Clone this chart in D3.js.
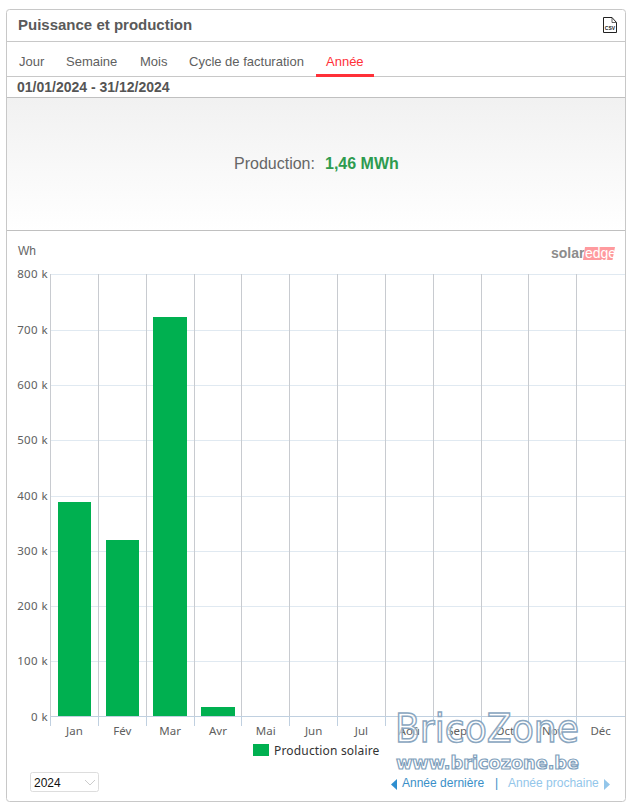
<!DOCTYPE html>
<html><head><meta charset="utf-8">
<script src="https://cdn.jsdelivr.net/npm/d3@7/dist/d3.min.js"></script>
<style>html,body{margin:0;padding:0;background:#fff}svg{display:block}</style>
</head><body><svg id="c" width="632" height="808"></svg>
<script>
// Monthly solar production in Wh
const months = ["Jan","Fév","Mar","Avr","Mai","Jun","Jul","Aoû","Sep","Oct","Nov","Déc"];
const production = [388000,319500,723000,17000,null,null,null,null,null,null,null,null];
const yTicks = [0,100000,200000,300000,400000,500000,600000,700000,800000];
const tabs = [["Jour",19],["Semaine",66],["Mois",140],["Cycle de facturation",189],["Année",326]];

const svg = d3.select("#c");
const F = "Arial, 'Liberation Sans', sans-serif";
const FC = "'Noto Sans', 'DejaVu Sans', sans-serif";

function text(x,y,s,o={}){
  return svg.append("text").attr("x",x).attr("y",y).text(s)
    .attr("font-family",o.f||F).attr("font-size",o.s||14).attr("fill",o.c||"#555")
    .attr("font-weight",o.w||"normal").attr("text-anchor",o.a||"start");
}
function hline(x1,x2,y,c,w=1){svg.append("line").attr("x1",x1).attr("x2",x2).attr("y1",y).attr("y2",y).attr("stroke",c).attr("stroke-width",w);}

// Widget frame
svg.append("rect").attr("x",6.5).attr("y",9.5).attr("width",619).attr("height",792).attr("rx",3)
  .attr("fill","#fff").attr("stroke","#c8c8c8");

// Summary band gradient
const defs = svg.append("defs");
const g = defs.append("linearGradient").attr("id","band").attr("x1",0).attr("x2",0).attr("y1",0).attr("y2",1);
g.append("stop").attr("offset","0").attr("stop-color","#f1f1f1");
g.append("stop").attr("offset","1").attr("stop-color","#ffffff");
svg.append("rect").attr("x",7).attr("y",98).attr("width",618).attr("height",133).attr("fill","url(#band)");

// Header
text(18,30,"Puissance et production",{s:15,w:"bold",c:"#5a5a5a"});
hline(7,625,41.5,"#c8c8c8");
hline(7,625,76.5,"#c8c8c8");
hline(7,625,97.5,"#c0c0c0");
hline(7,625,230.5,"#c0c0c0");

// CSV export icon
const ic = svg.append("g");
ic.append("path").attr("d","M603.5 17.5H612L616.5 22.5V32.5H603.5Z").attr("fill","#fff").attr("stroke","#222");
ic.append("path").attr("d","M612 17.5V22.5H616.5").attr("fill","none").attr("stroke","#222").attr("stroke-width",.7);
text(610,30,"CSV",{s:5,w:"bold",c:"#222",a:"middle"});

// Tabs
tabs.forEach(([t,x],i)=>text(x,66,t,{s:13,c:i===4?"#ff3038":"#606060"}));
svg.append("rect").attr("x",316).attr("y",74).attr("width",58).attr("height",3).attr("fill","#ff3038");

text(17,92,"01/01/2024 - 31/12/2024",{s:14,w:"bold",c:"#555"});

// Total
text(234,169,"Production:",{s:16,c:"#666"});
text(325,169,"1,46 MWh",{s:16,w:"bold",c:"#2e9b4f"});

// Chart scales
const x0 = 50.5, x1 = 624.5;
const x = d3.scaleBand().domain(months).range([x0,x1]).paddingInner(0.3).paddingOuter(0.15);
const step = x.step();
const y = d3.scaleLinear().domain([0,800000]).range([716.6,274.4]);
const fmt = v => (v/1000)+" k";

text(18,255,"Wh",{s:12,c:"#666"});

// Horizontal grid
svg.append("g").selectAll("line").data(yTicks.slice(1)).join("line")
  .attr("x1",50.5).attr("x2",625).attr("y1",d=>Math.round(y(d))+.5).attr("y2",d=>Math.round(y(d))+.5)
  .attr("stroke","#e0e9f1");

// Vertical separators between months
const edges = months.map((m,i)=>Math.floor(x0+i*step)+.5);
svg.append("g").selectAll("line").data(edges).join("line")
  .attr("x1",d=>d).attr("x2",d=>d)
  .attr("y1",274).attr("y2",716).attr("stroke","#c8cbd0");

// Y axis labels
svg.append("g").selectAll("text").data(yTicks).join("text")
  .attr("x",48).attr("y",d=>y(d)+4).attr("text-anchor","end").attr("letter-spacing",.4)
  .attr("font-family",FC).attr("font-size",11.5).attr("fill","#606060").text(fmt);

// Bars
svg.append("g").attr("shape-rendering","crispEdges").selectAll("rect").data(production.filter(v=>v!=null)).join("rect")
  .attr("x",(d,i)=>x(months[i])).attr("width",x.bandwidth())
  .attr("y",d=>y(d)).attr("height",d=>y(0)-y(d)).attr("fill","#00b050");

// Baseline and category ticks
hline(50.5,625,716.5,"#c0d0e0");
svg.append("g").selectAll("line").data(edges).join("line")
  .attr("x1",d=>d).attr("x2",d=>d)
  .attr("y1",716).attr("y2",726).attr("stroke","#c0d0e0");

svg.append("g").selectAll("text").data(months).join("text")
  .attr("x",(d,i)=>x0+i*step+step/2).attr("y",735).attr("text-anchor","middle")
  .attr("font-family",FC).attr("font-size",11.5).attr("fill","#606060").text(d=>d);

// Legend
svg.append("rect").attr("x",253).attr("y",744).attr("width",16).attr("height",12).attr("fill","#00b050");
text(274,755,"Production solaire",{s:12,f:FC,c:"#333"}).attr("letter-spacing",.17);

// solaredge mark
text(551,258,"solar",{s:14,w:"bold",c:"#8c8c8c"});
svg.append("path").attr("d","M585 247H615L612.5 260H583Z").attr("fill","#ff9a9e");
text(585,258,"edge",{s:14,c:"#fff"});

// Year selector
svg.append("rect").attr("x",30.5).attr("y",772.5).attr("width",68).attr("height",19).attr("rx",2).attr("fill","#fff").attr("stroke","#ddd");
text(34,787,"2024",{s:12,c:"#111"});
svg.append("path").attr("d","M85 780L90 785L95 780").attr("fill","none").attr("stroke","#ccc");

// Navigation links
svg.append("path").attr("d","M397 779V790L391 784.5Z").attr("fill","#2f8fd0");
text(402,787,"Année dernière",{s:12,c:"#3a8fc8"});
text(495,787,"|",{s:12,c:"#3a8fc8"});
text(508,787,"Année prochaine",{s:12,c:"#93c6ea"});
svg.append("path").attr("d","M604 779V790L610 784.5Z").attr("fill","#93c6ea");

// BricoZone overlay
text(395,742,"BricoZone",{s:39,f:"'DejaVu Sans', sans-serif",c:"#fff"})
  .attr("fill-opacity",.65).attr("stroke","#8aa6c0").attr("stroke-width",1.5)
  .attr("textLength",184).attr("lengthAdjust","spacingAndGlyphs");
text(396,769,"www.bricozone.be",{s:18,f:"'DejaVu Sans', sans-serif",w:"bold",c:"#fff"})
  .attr("fill-opacity",.65).attr("stroke","#7f9fbc").attr("stroke-width",1.2)
  .attr("textLength",183).attr("lengthAdjust","spacingAndGlyphs");
</script></body></html>
